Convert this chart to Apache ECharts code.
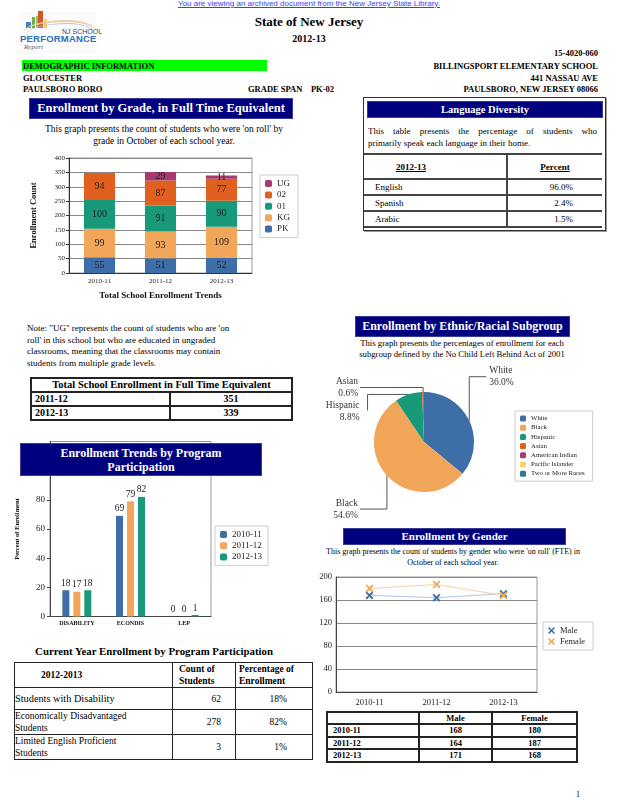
<!DOCTYPE html>
<html><head><meta charset="utf-8">
<script src="https://cdn.jsdelivr.net/npm/echarts@6/dist/echarts.min.js"></script>
<style>
body{margin:0;width:618px;height:800px;position:relative;background:#fff;font-family:"Liberation Serif","Times New Roman",serif;color:#000;overflow:hidden}
.a{position:absolute;white-space:nowrap}
.b{font-weight:bold}
.nav{position:absolute;background:#00007f;color:#fff;font-weight:bold;text-align:center;box-sizing:border-box;border:1px solid #3a3a9a;white-space:nowrap}
.ch{position:absolute}
table{border-collapse:collapse;position:absolute;table-layout:fixed}
td{overflow:hidden;white-space:nowrap}
</style></head><body>

<!-- header -->
<div class="a" style="left:0;width:618px;top:-2px;line-height:12px;text-align:center;font-family:'Liberation Sans',Arial,sans-serif;font-size:8px;color:#3b3bff;text-decoration:underline">You are viewing an archived document from the New Jersey State Library.</div>

<!-- logo -->
<div class="a" style="left:20px;top:12px;width:76px;height:42px;background:#fbfbfb"></div>
<div class="a" style="left:26px;top:22px;width:5px;height:6px;background:#4a7cc0"></div>
<div class="a" style="left:32px;top:17px;width:3px;height:11px;background:#6ab04c"></div>
<div class="a" style="left:36px;top:16px;width:2px;height:12px;background:#8cc06a"></div>
<div class="a" style="left:38px;top:11px;width:5px;height:17px;background:#d8552a"></div>
<div class="a" style="left:44px;top:19px;width:3px;height:9px;background:#f0d060"></div>
<div class="a" style="left:24px;top:20px;width:72px;height:12px;border-top:2px solid #f3c9a0;border-radius:60% 40% 0 0/100% 100% 0 0;box-sizing:border-box"></div>
<div class="a" style="left:26px;top:23px;width:70px;height:12px;border-top:1px solid #a8c8e8;border-radius:60% 40% 0 0/100% 100% 0 0;box-sizing:border-box"></div>
<div class="a" style="left:62px;top:27px;line-height:9px;font-family:'Liberation Sans',Arial,sans-serif;font-size:7px;color:#445">NJ SCHOOL</div>
<div class="a b" style="left:20px;top:34px;line-height:10px;font-family:'Liberation Sans',Arial,sans-serif;font-size:9.5px;color:#2f6fb8;letter-spacing:0.2px">PERFORMANCE</div>
<div class="a" style="left:24px;top:43px;line-height:8px;font-style:italic;font-size:7px;color:#667">Report</div>

<div class="a b" style="left:0;width:618px;top:14px;line-height:16px;text-align:center;font-size:13px">State of New Jersey</div>
<div class="a b" style="left:0;width:618px;top:33px;line-height:12px;text-align:center;font-size:10px">2012-13</div>
<div class="a b" style="right:20px;top:47px;line-height:12px;font-size:8.5px">15-4020-060</div>
<div class="a" style="left:22px;top:60px;width:245px;height:11px;background:#00ff00"></div>
<div class="a b" style="left:23px;top:60px;line-height:12px;font-size:8.5px">DEMOGRAPHIC INFORMATION</div>
<div class="a b" style="right:20px;top:60px;line-height:12px;font-size:8.5px">BILLINGSPORT ELEMENTARY SCHOOL</div>
<div class="a b" style="left:23px;top:72px;line-height:12px;font-size:8.5px">GLOUCESTER</div>
<div class="a b" style="right:20px;top:72px;line-height:12px;font-size:8.5px">441 NASSAU AVE</div>
<div class="a b" style="left:23px;top:83px;line-height:12px;font-size:8.5px">PAULSBORO BORO</div>
<div class="a b" style="left:248px;top:83px;line-height:12px;font-size:8.5px">GRADE SPAN&nbsp;&nbsp;&nbsp;&nbsp;PK-02</div>
<div class="a b" style="right:20px;top:83px;line-height:12px;font-size:8.5px">PAULSBORO, NEW JERSEY 08066</div>

<!-- section 1 -->
<div class="nav" style="left:29px;top:98px;width:264px;height:21px;line-height:19px;font-size:12.5px">Enrollment by Grade, in Full Time Equivalent</div>
<div class="a" style="left:29px;width:270px;top:123px;line-height:12px;text-align:center;font-size:9.5px">This graph presents the count of students who were 'on roll' by<br>grade in October of each school year.</div>
<div id="g1" class="ch" style="left:20px;top:150px;width:285px;height:155px"></div>

<!-- language -->
<div class="a" style="left:363px;top:97px;width:241px;height:132px;border:1px solid #333;box-shadow:1px 1px 0 #999"></div>
<div class="nav" style="left:367px;top:101px;width:236px;height:17px;line-height:15px;font-size:10.5px">Language Diversity</div>
<div class="a" style="left:368px;top:125px;width:229px;line-height:12px;font-size:9px;white-space:normal;text-align:justify;text-align-last:justify">This table presents the percentage of students who</div>
<div class="a" style="left:368px;top:137px;width:229px;line-height:12px;font-size:9px">primarily speak each language in their home.</div>
<table style="left:364px;top:153px;width:238px;font-size:9px">
<colgroup><col style="width:143px"><col style="width:95px"></colgroup>
<tr style="height:25px"><td style="border-top:2px solid #444;border-bottom:2px solid #444;border-right:2px solid #444;padding:0 0 0 32px"><b><u>2012-13</u></b></td><td style="border-top:2px solid #444;border-bottom:2px solid #444;text-align:center"><b><u>Percent</u></b></td></tr>
<tr style="height:16px"><td style="border-bottom:2px solid #444;border-right:2px solid #444;padding:0 0 0 11px">English</td><td style="border-bottom:2px solid #444;text-align:right;padding-right:29px">96.0%</td></tr>
<tr style="height:16px"><td style="border-bottom:2px solid #444;border-right:2px solid #444;padding:0 0 0 11px">Spanish</td><td style="border-bottom:2px solid #444;text-align:right;padding-right:29px">2.4%</td></tr>
<tr style="height:16px"><td style="border-bottom:2px solid #444;border-right:2px solid #444;padding:0 0 0 11px">Arabic</td><td style="border-bottom:2px solid #444;text-align:right;padding-right:29px">1.5%</td></tr>
</table>

<!-- note -->
<div class="a" style="left:27px;top:323px;line-height:11.7px;font-size:9px">Note: "UG" represents the count of students who are 'on<br>roll' in this school but who are educated in ungraded<br>classrooms, meaning that the classrooms may contain<br>students from multiple grade levels.</div>
<table style="left:30px;top:377px;width:261px;font-size:10px;font-weight:bold">
<colgroup><col style="width:139px"><col style="width:122px"></colgroup>
<tr style="height:14px"><td colspan="2" style="border:2px solid #222;text-align:center;padding:0;font-size:10.5px;line-height:10px">Total School Enrollment in Full Time Equivalent</td></tr>
<tr style="height:14px"><td style="border:2px solid #222;padding:0 0 0 3px;line-height:10px">2011-12</td><td style="border:2px solid #222;text-align:center;line-height:10px;padding:0">351</td></tr>
<tr style="height:14px"><td style="border:2px solid #222;padding:0 0 0 3px;line-height:10px">2012-13</td><td style="border:2px solid #222;text-align:center;line-height:10px;padding:0">339</td></tr>
</table>

<!-- ethnic -->
<div class="nav" style="left:355px;top:316px;width:215px;height:21px;line-height:19px;font-size:12px">Enrollment by Ethnic/Racial Subgroup</div>
<div class="a" style="left:330px;width:264px;top:338px;line-height:11px;text-align:center;font-size:8.7px">This graph presents the percentages of enrollment for each<br>subgroup defined by the No Child Left Behind Act of 2001</div>
<div id="g3" class="ch" style="left:320px;top:360px;width:290px;height:165px"></div>

<!-- program -->
<div id="g2" class="ch" style="left:0px;top:430px;width:290px;height:210px"></div>
<div class="nav" style="left:20px;top:443px;width:242px;height:33px;line-height:14px;padding-top:2px;font-size:12px">Enrollment Trends by Program<br>Participation</div>

<div class="a b" style="left:0;width:308px;top:645px;line-height:13px;text-align:center;font-size:10.8px">Current Year Enrollment by Program Participation</div>
<table style="left:14px;top:662px;width:298px;font-size:9.5px">
<colgroup><col style="width:158px"><col style="width:63px"><col style="width:77px"></colgroup>
<tr style="height:24px"><td style="border:1.5px solid #222;padding:0 0 0 26px;font-weight:bold">2012-2013</td><td style="border:1.5px solid #222;padding:0 0 0 6px;font-weight:bold;line-height:12px">Count of<br>Students</td><td style="border:1.5px solid #222;padding:0 0 0 3px;font-weight:bold;line-height:12px">Percentage of<br>Enrollment</td></tr>
<tr style="height:22px"><td style="border:1.5px solid #222;padding:0;font-size:10.3px">Students with Disability</td><td style="border:1.5px solid #222;text-align:right;padding:0 14px 0 0">62</td><td style="border:1.5px solid #222;text-align:right;padding:0 25px 0 0">18%</td></tr>
<tr style="height:25px"><td style="border:1.5px solid #222;padding:0;line-height:12px;vertical-align:bottom">Economically Disadvantaged<br>Students</td><td style="border:1.5px solid #222;text-align:right;padding:0 14px 0 0">278</td><td style="border:1.5px solid #222;text-align:right;padding:0 25px 0 0">82%</td></tr>
<tr style="height:23px"><td style="border:1.5px solid #222;padding:0;line-height:12px;vertical-align:bottom">Limited English Proficient<br>Students</td><td style="border:1.5px solid #222;text-align:right;padding:0 14px 0 0">3</td><td style="border:1.5px solid #222;text-align:right;padding:0 25px 0 0">1%</td></tr>
</table>

<!-- gender -->
<div class="nav" style="left:343px;top:528px;width:223px;height:17px;line-height:15px;font-size:11px">Enrollment by Gender</div>
<div class="a" style="left:323px;width:260px;top:547px;line-height:10.5px;text-align:center;font-size:8px">This graph presents the count of students by gender who were 'on roll' (FTE) in<br>October of each school year.</div>
<div id="g4" class="ch" style="left:300px;top:568px;width:310px;height:140px"></div>
<table style="left:326px;top:711px;width:250px;font-size:8.5px;font-weight:bold">
<colgroup><col style="width:92px"><col style="width:73px"><col style="width:85px"></colgroup>
<tr style="height:12px"><td style="border:2px solid #222;padding:0;line-height:9px"></td><td style="border:2px solid #222;text-align:center;padding:0;line-height:9px">Male</td><td style="border:2px solid #222;text-align:center;padding:0;line-height:9px">Female</td></tr>
<tr style="height:13px"><td style="border:2px solid #222;padding:0 0 0 5px;line-height:9px">2010-11</td><td style="border:2px solid #222;text-align:center;padding:0;line-height:9px">168</td><td style="border:2px solid #222;text-align:center;padding:0;line-height:9px">180</td></tr>
<tr style="height:12px"><td style="border:2px solid #222;padding:0 0 0 5px;line-height:9px">2011-12</td><td style="border:2px solid #222;text-align:center;padding:0;line-height:9px">164</td><td style="border:2px solid #222;text-align:center;padding:0;line-height:9px">187</td></tr>
<tr style="height:13px"><td style="border:2px solid #222;padding:0 0 0 5px;line-height:9px">2012-13</td><td style="border:2px solid #222;text-align:center;padding:0;line-height:9px">171</td><td style="border:2px solid #222;text-align:center;padding:0;line-height:9px">168</td></tr>
</table>

<div class="a" style="left:576px;top:790px;line-height:10px;font-size:8px">1</div>

<script>
// ---------- data ----------
const gradeYears = ['2010-11', '2011-12', '2012-13'];
const gradePK = [55, 51, 52];
const gradeKG = [99, 93, 109];
const grade01 = [100, 91, 90];
const grade02 = [94, 87, 77];
const gradeUG = [0, 29, 11];
const gradeTicks = [0, 400, 50];

const progCats = ['DISABILITY', 'ECONDIS', 'LEP'];
const prog1011 = [18, 69, 0];
const prog1112 = [17, 79, 0];
const prog1213 = [18, 82, 1];
const progTicks = [0, 120, 20];

const ethNames = ['White', 'Black', 'Hispanic', 'Asian', 'American Indian', 'Pacific Islander', 'Two or More Races'];
const ethPct = [36.0, 54.6, 8.8, 0.6, 0, 0, 0];

const genderYears = ['2010-11', '2011-12', '2012-13'];
const genderMale = [168, 164, 171];
const genderFemale = [180, 187, 168];
const genderTicks = [0, 200, 40];

// ---------- styles ----------
const SERIF = 'Liberation Serif';
const C = {blue: '#3d6ea8', kg: '#f2a65a', green: '#17997a', red: '#e2601f', ug: '#a83a72', yellow: '#fcd26a', teal: '#2c7a8c'};
const XSYM = 'path://M0,1.6 L1.6,0 L5,3.4 L8.4,0 L10,1.6 L6.6,5 L10,8.4 L8.4,10 L5,6.6 L1.6,10 L0,8.4 L3.4,5 Z';

// ---------- chart 1: enrollment by grade ----------
const g1 = echarts.init(document.getElementById('g1'));
function stackSeries(name, data, color) {
  return {name, type: 'bar', stack: 'tot', data, barWidth: '51%', itemStyle: {color},
    label: {show: true, position: 'inside', fontFamily: SERIF, fontSize: 10, color: '#222',
      formatter: p => (p.value ? String(p.value) : '')}};
}
g1.setOption({
  animation: false,
  grid: {left: 49, top: 8, width: 183, height: 120, show: true, borderColor: '#999', borderWidth: 1},
  legend: {orient: 'vertical', left: 240, top: 25, data: ['UG', '02', '01', 'KG', 'PK'],
    itemWidth: 7, itemHeight: 7, itemGap: 2.4, padding: [4, 8, 4, 5],
    borderColor: '#ccc', borderWidth: 1, backgroundColor: '#fff',
    textStyle: {fontFamily: SERIF, fontSize: 9, color: '#222'}},
  xAxis: {type: 'category', data: gradeYears,
    axisLine: {lineStyle: {color: '#333'}}, axisTick: {show: false},
    axisLabel: {fontFamily: SERIF, fontSize: 7, color: '#222', margin: 5},
    name: 'Total School Enrollment Trends', nameLocation: 'middle', nameGap: 18,
    nameTextStyle: {fontFamily: SERIF, fontSize: 9, fontWeight: 'bold', color: '#111'}},
  yAxis: {type: 'value', min: gradeTicks[0], max: gradeTicks[1], interval: gradeTicks[2],
    axisLine: {show: true, lineStyle: {color: '#333'}}, axisTick: {show: true, length: 3, lineStyle: {color: '#333'}},
    splitLine: {lineStyle: {color: '#888'}},
    axisLabel: {fontFamily: SERIF, fontSize: 7, color: '#222', margin: 4},
    name: 'Enrollment Count', nameLocation: 'middle', nameGap: 31,
    nameTextStyle: {fontFamily: SERIF, fontSize: 8.5, fontWeight: 'bold', color: '#111'}},
  series: [
    stackSeries('PK', gradePK, C.blue),
    stackSeries('KG', gradeKG, C.kg),
    stackSeries('01', grade01, C.green),
    stackSeries('02', grade02, C.red),
    stackSeries('UG', gradeUG, C.ug)
  ]
});

// ---------- chart 2: program participation ----------
const g2 = echarts.init(document.getElementById('g2'));
function progSeries(name, data, color) {
  return {name, type: 'bar', data, barWidth: 7, barGap: '57%', itemStyle: {color},
    label: {show: true, position: 'top', distance: 2, fontFamily: SERIF, fontSize: 9.5, color: '#222'}};
}
g2.setOption({
  animation: false,
  grid: {left: 50, top: 11.5, width: 161, height: 175, show: true, borderColor: '#999', borderWidth: 1},
  legend: {orient: 'vertical', left: 215, top: 96, itemWidth: 7, itemHeight: 7, itemGap: 2.2,
    padding: [4, 6, 4, 5], borderColor: '#ccc', borderWidth: 1, backgroundColor: '#fff',
    textStyle: {fontFamily: SERIF, fontSize: 9, color: '#222'}},
  xAxis: {type: 'category', data: progCats, axisLine: {lineStyle: {color: '#444'}}, axisTick: {show: false},
    axisLabel: {fontFamily: SERIF, fontSize: 6, fontWeight: 'bold', color: '#111', margin: 4}},
  yAxis: {type: 'value', min: progTicks[0], max: progTicks[1], interval: progTicks[2],
    splitLine: {show: false}, axisLine: {show: true, lineStyle: {color: '#444'}},
    axisTick: {show: true, length: 3, lineStyle: {color: '#444'}},
    axisLabel: {fontFamily: SERIF, fontSize: 9, color: '#222', margin: 5, showMaxLabel: false},
    name: 'Percent of Enrollment', nameLocation: 'middle', nameGap: 23,
    nameTextStyle: {fontFamily: SERIF, fontSize: 6.5, fontWeight: 'bold', color: '#111'}},
  series: [
    progSeries('2010-11', prog1011, C.blue),
    progSeries('2011-12', prog1112, C.kg),
    progSeries('2012-13', prog1213, C.green)
  ]
});

// ---------- chart 3: ethnic pie ----------
const g3 = echarts.init(document.getElementById('g3'));
const ethColors = [C.blue, C.kg, C.green, C.red, C.ug, C.yellow, C.teal];
// label placement relative to the slice edge point (style only)
const pieLabelPlace = {
  'White': {bend: [0, -44], end: [17, -44], text: [20, -44], align: 'left'},
  'Asian': {bend: [0, -4.5], end: [-63, -4.5], text: [-65, -4.5], align: 'right'},
  'Hispanic': {bend: [-41, 0], end: [-41, 16], text: [-49, 17.5], align: 'right'},
  'Black': {bend: [0, 33.5], end: [-27, 33.5], text: [-29, 33.5], align: 'right'}
};
g3.setOption({
  animation: false,
  legend: {orient: 'vertical', left: 195, top: 51, itemWidth: 6, itemHeight: 6, itemGap: 2.2,
    padding: [4, 8, 4, 5], borderColor: '#ccc', borderWidth: 1, backgroundColor: '#fff',
    data: ethNames, textStyle: {fontFamily: SERIF, fontSize: 6.8, color: '#222'}},
  series: [{
    type: 'pie', center: [104, 82], radius: 50, startAngle: 90, clockwise: true,
    color: ethColors, stillShowZeroSum: true,
    data: ethNames.map((n, i) => ({name: n, value: ethPct[i],
      label: {show: ethPct[i] > 0}, labelLine: {show: ethPct[i] > 0}})),
    label: {fontFamily: SERIF, fontSize: 9.5, lineHeight: 12, color: '#333',
      formatter: p => p.name + '\n' + p.value.toFixed(1) + '%'},
    labelLine: {show: true, length: 10, length2: 10, lineStyle: {color: '#555', width: 1}},
    labelLayout: function (p) {
      const o = pieLabelPlace[ethNames[p.dataIndex]];
      if (!o || !p.labelLinePoints) return {};
      const e = p.labelLinePoints[0];
      return {
        x: e[0] + o.text[0], y: e[1] + o.text[1], align: o.align, verticalAlign: 'middle',
        labelLinePoints: [[e[0], e[1]], [e[0] + o.bend[0], e[1] + o.bend[1]], [e[0] + o.end[0], e[1] + o.end[1]]]
      };
    }
  }]
});

// ---------- chart 4: gender ----------
const g4 = echarts.init(document.getElementById('g4'));
function genderSeries(name, data, lineColor, markColor) {
  return {name, type: 'line', data, symbol: XSYM, symbolSize: 8, showAllSymbol: true,
    lineStyle: {color: lineColor, width: 1}, itemStyle: {color: markColor}};
}
g4.setOption({
  animation: false,
  grid: {left: 36, top: 9, width: 201, height: 115, show: true, borderColor: '#999', borderWidth: 1},
  legend: {orient: 'vertical', left: 243, top: 54, itemWidth: 7, itemHeight: 7, itemGap: 2,
    padding: [4, 8, 4, 5], borderColor: '#ccc', borderWidth: 1, backgroundColor: '#fff',
    lineStyle: {opacity: 0, width: 0},
    data: [{name: 'Male', icon: XSYM}, {name: 'Female', icon: XSYM}],
    textStyle: {fontFamily: SERIF, fontSize: 8.5, color: '#222'}},
  xAxis: {type: 'category', data: genderYears, boundaryGap: true,
    axisLine: {lineStyle: {color: '#444'}}, axisTick: {show: false},
    axisLabel: {fontFamily: SERIF, fontSize: 8.5, color: '#222', margin: 6}},
  yAxis: {type: 'value', min: genderTicks[0], max: genderTicks[1], interval: genderTicks[2],
    axisLine: {show: true, lineStyle: {color: '#444'}}, axisTick: {show: false},
    splitLine: {lineStyle: {color: '#888'}},
    axisLabel: {fontFamily: SERIF, fontSize: 8.5, color: '#222', margin: 4}},
  series: [
    genderSeries('Male', genderMale, '#b3c6e3', C.blue),
    genderSeries('Female', genderFemale, '#f9cfa6', C.kg)
  ]
});
</script>
</body></html>
